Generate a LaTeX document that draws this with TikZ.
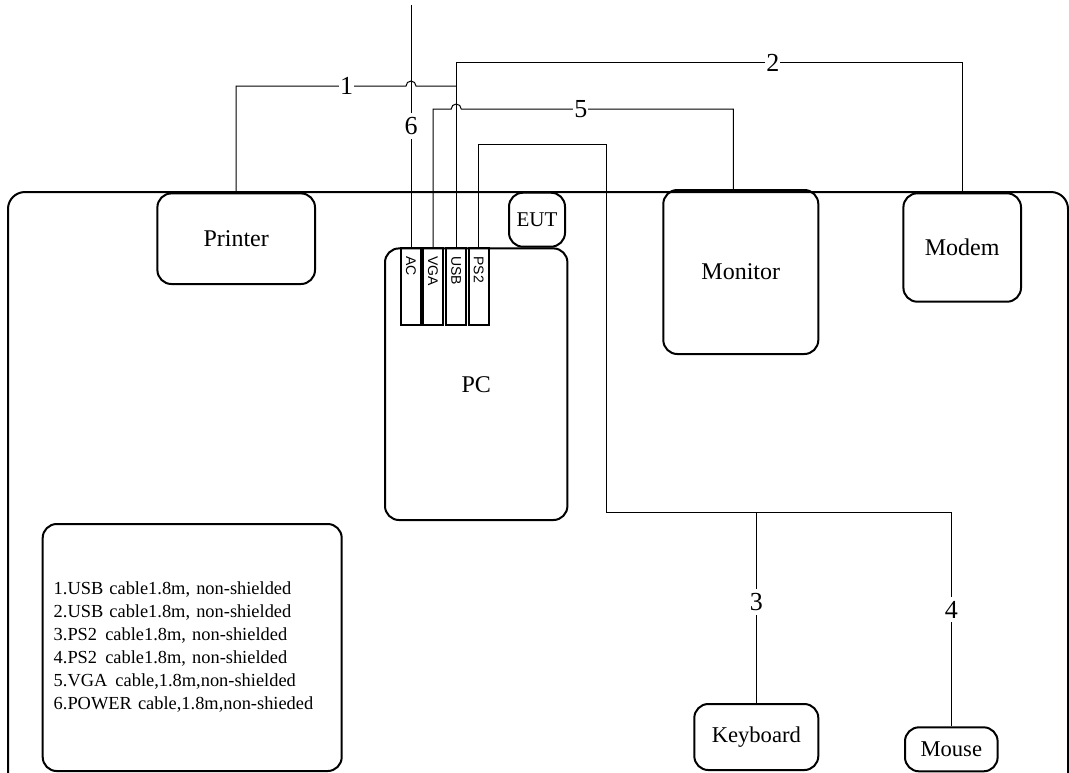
\documentclass[tikz,border=0pt]{standalone}
\usepackage{fontspec}
\setmainfont{Liberation Serif}
\newfontfamily\arialfont{Liberation Sans}
\tikzset{
  dev/.style={draw, line width=1pt, rounded corners=7pt, inner sep=0pt,
    font=\fontsize{12}{14}\selectfont},
  port/.style={draw, line width=1pt, rotate=-90, minimum width=38.3pt,
    minimum height=10pt, inner xsep=4pt, inner ysep=0pt, text width=30.3pt,
    align=left, font=\arialfont\fontsize{7}{8}\selectfont},
  cable/.style={line width=0.5pt},
  lbl/.style={fill=white, inner xsep=0.5pt, inner ysep=2pt,
    font=\fontsize{13}{15}\selectfont}
}
\begin{document}
\begin{tikzpicture}[x=0.5pt,y=-0.5pt]
  \useasboundingbox (0,0) rectangle (1069,772);
  \clip (0,0) rectangle (1069,772);
  % table frame
  \draw[line width=1pt, rounded corners=8.5pt] (8,192) rectangle (1068,820);
  % devices
  \node[dev, minimum width=78.8pt, minimum height=45.3pt] (printer) at (236.2,238.7) {Printer};
  \node[dev, minimum width=28pt, minimum height=27pt, font=\fontsize{10.5}{12}\selectfont] (eut) at (537,219.7) {EUT};
  \node[dev, minimum width=91.2pt, minimum height=135.8pt] (pc) at (476.2,384.2) {PC};
  \node[dev, minimum width=77.5pt, minimum height=82pt] (monitor) at (740.8,272) {Monitor};
  \node[dev, minimum width=58.8pt, minimum height=54.2pt] (modem) at (962.2,247.5) {Modem};
  \node[dev, minimum width=62pt, minimum height=33pt, font=\fontsize{11.3}{13}\selectfont] (kbd) at (756.3,737) {Keyboard};
  \node[dev, minimum width=46.3pt, minimum height=22pt, font=\fontsize{11.3}{13}\selectfont] (mouse) at (951.3,749.3) {Mouse};
  \foreach \nm/\x/\txt in {pAC/411/AC, pVGA/433/VGA, pUSB/456.2/USB, pPS2/478.8/PS2}
    \node[port] (\nm) at (\x,286.7) {\txt};
  % legend
  \node[dev, minimum width=149.5pt, minimum height=123.5pt, inner xsep=5.5pt,
    text width=138.5pt, align=left, font=\fontsize{9.2}{11.5}\selectfont]
    (legend) at (192.2,647.5) {1.USB cable1.8m, non-shielded\\
    2.USB cable1.8m, non-shielded\\
    3.PS2~\kern1pt cable1.8m, non-shielded\\
    4.PS2~\kern1pt cable1.8m, non-shielded\\
    5.VGA~\kern1pt cable,1.8m,non-shielded\\
    6.POWER cable,1.8m,non-shieded};
  % cable levels
  \coordinate (r2) at (0,62.7);
  \coordinate (r1) at (0,86);
  \coordinate (r5) at (0,109);
  \coordinate (acend) at (0,5);
  \coordinate (montop) at (733.3,190);
  \coordinate (ps2a) at (606.7,144.3);
  \coordinate (ps2b) at (606.7,512.7);
  % cables
  \draw[cable] (pAC.west) -- node[lbl, pos=0.5] {6} (pAC.west |- acend);
  \draw[cable] (pUSB.west) -- (pUSB.west |- r2) -| node[lbl, pos=0.313] {2} (modem.north);
  \draw[cable] (printer.north) |- node[lbl, pos=0.825] {1} ([xshift=-2.5pt]pAC.west |- r1)
    arc[start angle=180, end angle=360, radius=5] -- (pUSB.west |- r1);
  \draw[cable] (pVGA.west) |- ([xshift=-2.5pt]pUSB.west |- r5)
    arc[start angle=180, end angle=360, radius=5]
    -- node[lbl, pos=0.44] {5} (r5 -| montop) -- (montop);
  \draw[cable] (pPS2.west) |- (ps2a) -- (ps2b) -| node[lbl, pos=0.727] {4} (mouse.north);
  \draw[cable] (kbd.north) -- node[lbl, pos=0.53] {3} (kbd.north |- ps2b);
\end{tikzpicture}
\end{document}
